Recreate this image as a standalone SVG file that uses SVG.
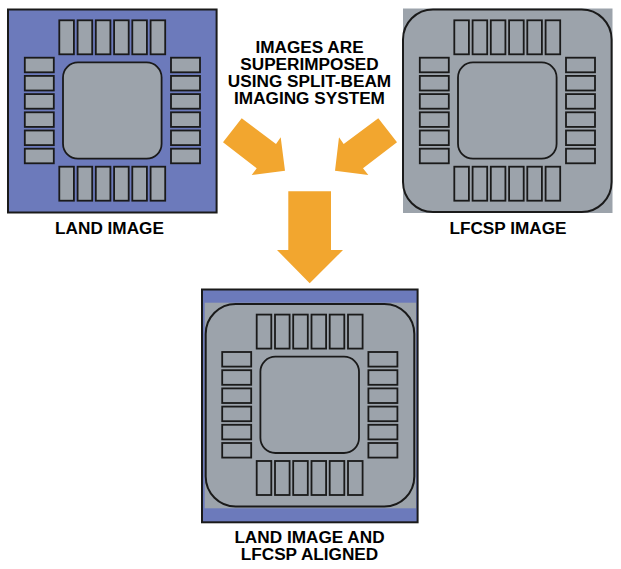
<svg xmlns="http://www.w3.org/2000/svg" width="621" height="569" viewBox="0 0 621 569">
<style>
.bg{fill:#fff}
.blue{fill:#6c7abb}
.gray{fill:#9ca3ab}
.line{stroke:#1a1a1a;stroke-width:2}
.pad{fill:#9ca3ab;stroke:#1a1a1a;stroke-width:1.8}
.arrow{fill:#f2a62f}
text{font-family:"Liberation Sans",Arial,sans-serif;font-weight:700;font-size:17.2px;fill:#000;text-anchor:middle}
</style>
<defs>
<g id="package">
<rect class="pad" x="59.3" y="20.3" width="14.6" height="34"/>
<rect class="pad" x="77.6" y="20.3" width="14.6" height="34"/>
<rect class="pad" x="95.8" y="20.3" width="14.6" height="34"/>
<rect class="pad" x="114.1" y="20.3" width="14.6" height="34"/>
<rect class="pad" x="132.3" y="20.3" width="14.6" height="34"/>
<rect class="pad" x="150.6" y="20.3" width="14.6" height="34"/>
<rect class="pad" x="59.3" y="166.7" width="14.6" height="34"/>
<rect class="pad" x="77.6" y="166.7" width="14.6" height="34"/>
<rect class="pad" x="95.8" y="166.7" width="14.6" height="34"/>
<rect class="pad" x="114.1" y="166.7" width="14.6" height="34"/>
<rect class="pad" x="132.3" y="166.7" width="14.6" height="34"/>
<rect class="pad" x="150.6" y="166.7" width="14.6" height="34"/>
<rect class="pad" x="24.8" y="57.7" width="29" height="14.6"/>
<rect class="pad" x="24.8" y="75.9" width="29" height="14.6"/>
<rect class="pad" x="24.8" y="94.1" width="29" height="14.6"/>
<rect class="pad" x="24.8" y="112.3" width="29" height="14.6"/>
<rect class="pad" x="24.8" y="130.5" width="29" height="14.6"/>
<rect class="pad" x="24.8" y="148.7" width="29" height="14.6"/>
<rect class="pad" x="171" y="57.7" width="29" height="14.6"/>
<rect class="pad" x="171" y="75.9" width="29" height="14.6"/>
<rect class="pad" x="171" y="94.1" width="29" height="14.6"/>
<rect class="pad" x="171" y="112.3" width="29" height="14.6"/>
<rect class="pad" x="171" y="130.5" width="29" height="14.6"/>
<rect class="pad" x="171" y="148.7" width="29" height="14.6"/>
<rect class="pad" x="63" y="62.4" width="98.6" height="96.3" rx="15" ry="15"/>
</g>
</defs>
<rect class="bg" width="621" height="569"/>
<g id="land-image">
<rect class="blue line" x="8" y="9.5" width="208.6" height="203"/>
<use href="#package"/>
<text x="109.5" y="234.3">LAND IMAGE</text>
</g>
<g id="lfcsp-image">
<rect class="gray" x="403" y="8.5" width="209.5" height="204.5"/>
<rect class="gray line" x="403" y="9.5" width="208.6" height="202.6" rx="30" ry="30"/>
<use href="#package" x="395"/>
<text x="508" y="234.3">LFCSP IMAGE</text>
</g>
<g id="aligned-image">
<rect class="blue line" x="202" y="289.5" width="215.6" height="232.8"/>
<rect class="gray" x="204.7" y="302.7" width="211.3" height="205.6"/>
<rect class="gray line" x="205.7" y="304" width="208.6" height="202.6" rx="30" ry="30"/>
<use href="#package" x="197.4" y="294.3"/>
<text y="543"><tspan x="309.5">LAND IMAGE AND</tspan><tspan x="309.5" dy="17">LFCSP ALIGNED</tspan></text>
</g>
<g id="caption">
<text y="53"><tspan x="309.5">IMAGES ARE</tspan><tspan x="309.5" dy="16.9">SUPERIMPOSED</tspan><tspan x="309.5" dy="16.9">USING SPLIT-BEAM</tspan><tspan x="309.5" dy="16.9">IMAGING SYSTEM</tspan></text>
</g>
<g id="connectors">
<polygon class="arrow" points="241.7,118.3 276,144 280.7,137.3 285,170.7 251.7,175 256.7,168.3 223,142.3"/>
<polygon class="arrow" points="378.3,118.3 343.7,144 339,137.3 335,170.7 368.3,175 363,168.3 397,142.3"/>
<polygon class="arrow" points="288.3,191.3 331,191.3 331,250 343,250 309.7,283.3 277,250 288.3,250"/>
</g>
</svg>
